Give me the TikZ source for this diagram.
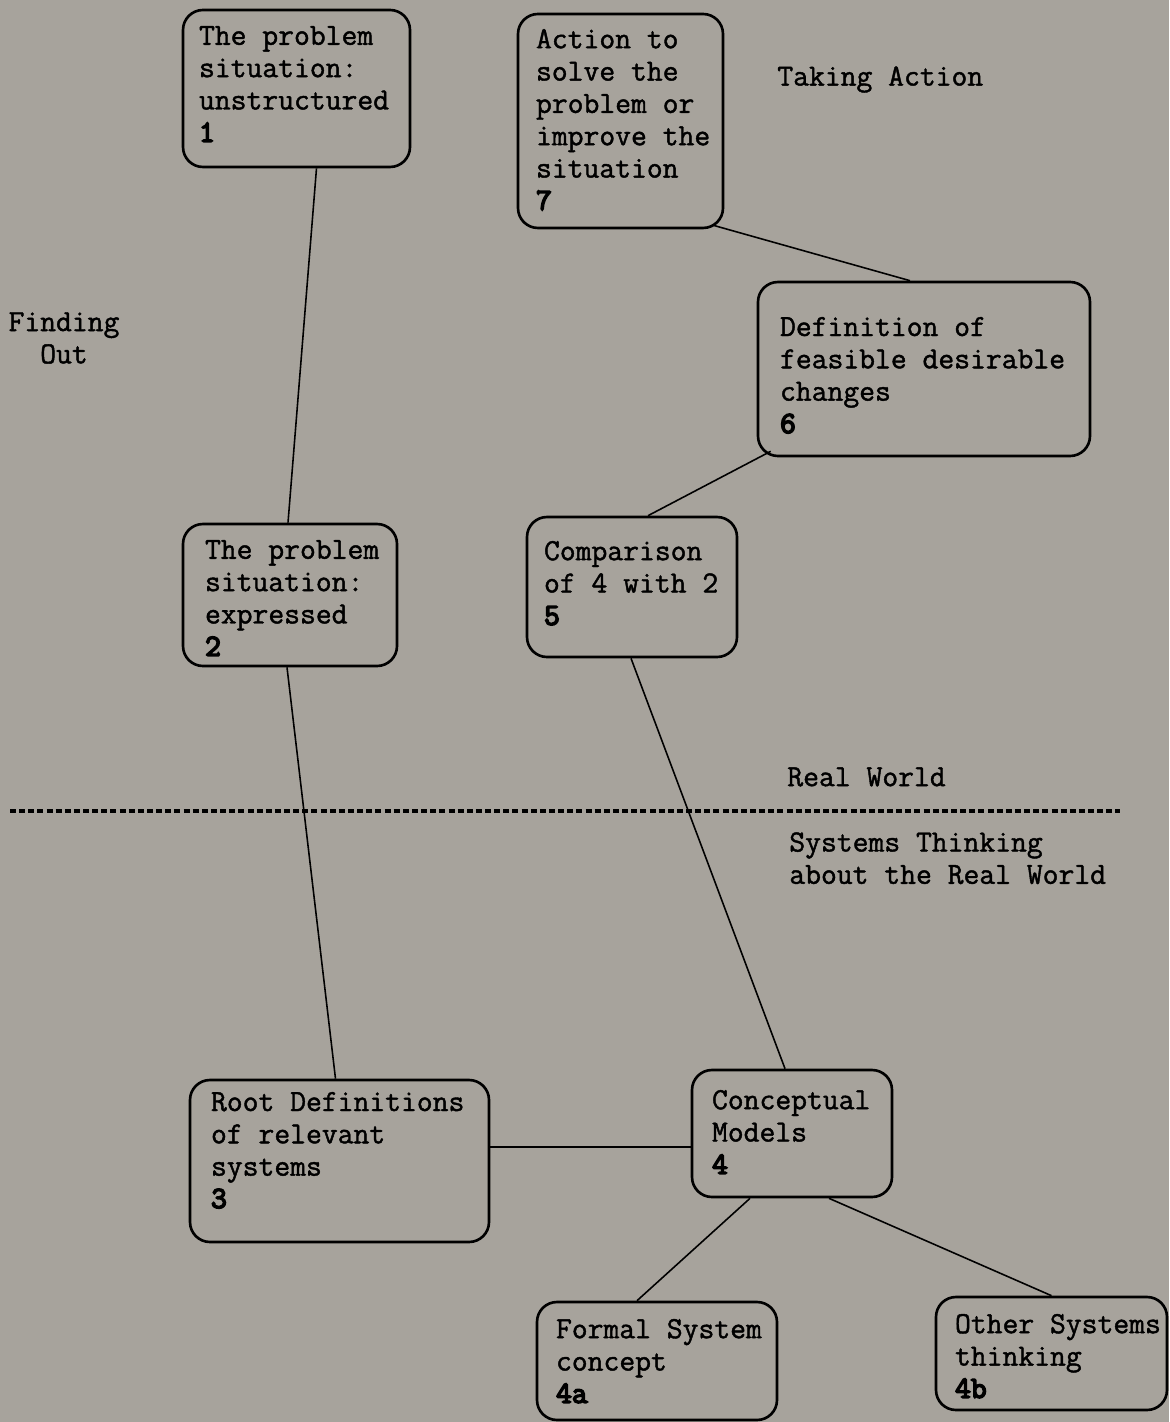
\documentclass[tikz,border=0pt]{standalone}
\usepackage{fontspec}
\usepackage{xcolor}
\usepackage{tikz}
\usetikzlibrary{positioning,calc,fit}
\newfontfamily\typefont[FakeBold=1.4]{Latin Modern Mono}
\newfontfamily\numfont[FakeBold=5]{Latin Modern Mono}
\definecolor{paper}{HTML}{A7A39C}

\begin{document}
\begin{tikzpicture}[
    x=0.02cm, y=-0.02cm,
    font=\typefont\fontsize{17.5}{18.4}\selectfont,
    box/.style={draw, line width=1.5pt, rounded corners=0.4cm, inner sep=0pt},
    txt/.style={anchor=north west, align=left, inner sep=0pt, text=black},
    lbl/.style={inner sep=0pt, text=black},
    link/.style={line width=0.9pt},
    split/.style={line width=1.8pt, dash pattern=on 3.4pt off 1.8pt}
]
% ============================================================
% PAGE
% ============================================================
\fill[paper] (0,0) rectangle (1169,1422);
\useasboundingbox (0,0) rectangle (1169,1422);

% ============================================================
% BOXES
% ============================================================
\node[box, fit={(183,10) (410,167)}]    (b1)  {};
\node[box, fit={(518,14) (723,228)}]    (b7)  {};
\node[box, fit={(758,282) (1090,456)}]  (b6)  {};
\node[box, fit={(183,524) (397,666)}]   (b2)  {};
\node[box, fit={(527,517) (737,657)}]   (b5)  {};
\node[box, fit={(190,1080) (489,1242)}] (b3)  {};
\node[box, fit={(692,1070) (892,1197)}] (b4)  {};
\node[box, fit={(537,1302) (777,1420)}] (b4a) {};
\node[box, fit={(936,1297) (1167,1410)}] (b4b) {};

% ============================================================
% BOX TEXTS
% ============================================================
\node[txt] (t1)  at ($(b1.north west)+(17,17)$)  {The problem\\situation:\\unstructured\\{\numfont 1}};
\node[txt] (t7)  at ($(b7.north west)+(19,16)$)  {Action to\\solve the\\problem or\\improve the\\situation\\{\numfont 7}};
\node[txt] (t6)  at ($(b6.north west)+(23,36)$)  {Definition of\\feasible desirable\\changes\\{\numfont 6}};
\node[txt] (t2)  at ($(b2.north west)+(23,17)$)  {The problem\\situation:\\expressed\\{\numfont 2}};
\node[txt] (t5)  at ($(b5.north west)+(18,25)$)  {Comparison\\of 4 with 2\\{\numfont 5}};
\node[txt] (t3)  at ($(b3.north west)+(22,13)$)  {Root Definitions\\of relevant\\systems\\{\numfont 3}};
\node[txt] (t4)  at ($(b4.north west)+(21,21)$)  {Conceptual\\Models\\{\numfont 4}};
\node[txt] (t4a) at ($(b4a.north west)+(20,18)$) {Formal System\\concept\\{\numfont 4a}};
\node[txt] (t4b) at ($(b4b.north west)+(20,18)$) {Other Systems\\thinking\\{\numfont 4b}};

% ============================================================
% AREA LABELS
% ============================================================
\node[lbl, anchor=north west] (action)  at (777,66)  {Taking Action};
\node[lbl, align=center]      (finding) at (64,338)  {Finding\\Out};
\node[lbl, anchor=north west] (real)    at (787,767) {Real World};
\node[lbl, anchor=north west, align=left] (sysw) at (789,832) {Systems Thinking\\about the Real World};

\coordinate (splitL) at (10,811);
\coordinate (splitR) at (1120,811);
\draw[split] (splitL) -- (splitR);

% ============================================================
% CONNECTORS
% ============================================================
\draw[link] ($(b1.south)+(20,0)$) -- ($(b2.north)+(-2,0)$);
\draw[link] ($(b7.south east)+(-11,-4)$) -- ($(b6.north)+(-14,0)$);
\draw[link] ($(b6.south west)+(14,-6)$) -- ($(b5.north)+(16,0)$);
\draw[link] ($(b2.south)+(-3,0)$) -- ($(b3.north)+(-4,0)$);
\draw[link] ($(b5.south)+(-1,0)$) -- ($(b4.north)+(-7,0)$);
\draw[link] ($(b3.east)+(0,-14)$) -- ($(b4.west)+(0,13.5)$);
\draw[link] ($(b4.south)+(-42,0)$) -- ($(b4a.north)+(-20,0)$);
\draw[link] ($(b4.south)+(37,0)$) -- ($(b4b.north)+(0,0)$);

\end{tikzpicture}
\end{document}
